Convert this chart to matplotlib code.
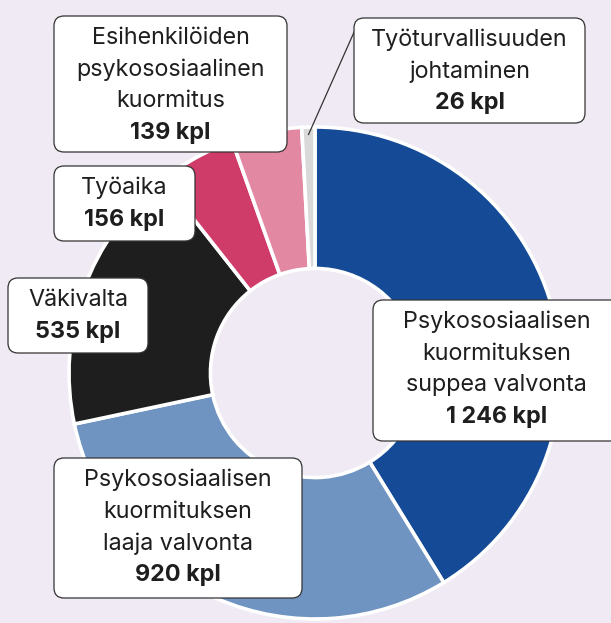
import numpy as np
import matplotlib.pyplot as plt
from matplotlib.patches import FancyBboxPatch

plt.rcParams['font.family'] = ['Inter', 'DejaVu Sans']

# data
names = [
    'Psykososiaalisen\nkuormituksen\nsuppea valvonta',
    'Psykososiaalisen\nkuormituksen\nlaaja valvonta',
    'Väkivalta',
    'Työaika',
    'Esihenkilöiden\npsykososiaalinen\nkuormitus',
    'Työturvallisuuden\njohtaminen',
]
counts = [1246, 920, 535, 156, 139, 26]
colors = ['#154b96', '#7094c1', '#1e1e1e', '#d03c69', '#e388a3', '#d9d9d9']

W, H = 611, 623
bg = '#efeaf3'

fig = plt.figure(figsize=(W / 100, H / 100), dpi=100, facecolor=bg)
ax = fig.add_axes([0, 0, 1, 1])
ax.set_facecolor(bg)

cx, cy, R = 315, H - 373, 246
wedges, _ = ax.pie(counts, colors=colors, startangle=90, counterclock=False,
                   center=(cx, cy), radius=R, frame=True,
                   wedgeprops=dict(width=R * 0.575, edgecolor='white', linewidth=2.6))
ax.set_xlim(0, W)
ax.set_ylim(0, H)
ax.set_aspect('equal')
ax.axis('off')

# label boxes in pixel coords (x0, y0, x1, y1), top-left origin
boxes = [
    (373, 300, 620, 441),
    (54, 458, 302, 598),
    (8, 278, 148, 353),
    (54, 166, 195, 241),
    (54, 16, 287, 152),
    (354, 18, 585, 123),
]

def fmt(n):
    return f'{n:,}'.replace(',', ' ') + ' kpl'

for name, n, (x0, y0, x1, y1) in zip(names, counts, boxes):
    p = FancyBboxPatch((x0, H - y1), x1 - x0, y1 - y0,
                       boxstyle='round,pad=0,rounding_size=10',
                       fc='white', ec='#333333', lw=0.9, zorder=5)
    ax.add_patch(p)
    lines = name.split('\n') + [fmt(n)]
    xc = (x0 + x1) / 2
    for i, line in enumerate(lines):
        yc = y0 + 22 + i * 31.7
        bold = i == len(lines) - 1
        ax.text(xc, H - yc, line, ha='center', va='center', fontsize=16.8,
                fontweight='bold' if bold else 'normal', color='#1e1e1e', zorder=6)

# leader line for the small grey slice
w = wedges[-1]
mid = np.deg2rad((w.theta1 + w.theta2) / 2)
sx, sy = cx + 0.97 * R * np.cos(mid), cy + 0.97 * R * np.sin(mid)
ax.plot([sx, 355], [sy, H - 30], color='#333333', lw=0.9, zorder=4)

fig.savefig('out.png', dpi=100, facecolor=bg)
